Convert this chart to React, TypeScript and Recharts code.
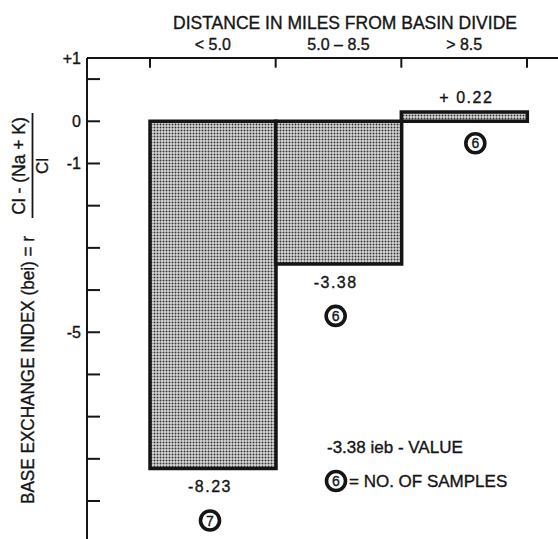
import React from 'react';
import { Bar, BarChart, LabelList, ReferenceLine, XAxis, YAxis } from 'recharts';

// distance classes from the basin divide
const categories = ['< 5.0', '5.0 – 8.5', '> 8.5'];
const beiValues = [-8.23, -3.38, 0.22];
const valueLabels = ['-8.23', '-3.38', '+ 0.22'];
const sampleCounts = [7, 6, 6];

// top of the frame is labelled "+1" in the original figure
const yTicks = [1.5, 1, 0, -1, -2, -3, -4, -5, -6, -7, -8, -9];
const yTickLabels: Record<string, string> = { '1.5': '+1', '0': '0', '-1': '-1', '-5': '-5' };

const data = categories.map((name, i) => ({
  name,
  value: beiValues[i],
  label: valueLabels[i],
  samples: sampleCounts[i],
}));

const FONT = '"Liberation Sans", Arial, Helvetica, sans-serif';
const INK = '#151515';
// printed type is a bit heavier than Liberation regular
const heavy = { stroke: INK, strokeWidth: 0.35 };

function CircledNumber({ cx, cy, n }: { cx: number; cy: number; n: number | string }) {
  return (
    <g>
      <circle cx={cx} cy={cy} r={9.5} fill="#fff" stroke={INK} strokeWidth={3.6} />
      <text
        x={cx}
        y={cy}
        dy="0.36em"
        textAnchor="middle"
        fontSize={14}
        fontFamily={FONT}
        fill={INK}
        {...heavy}
      >
        {n}
      </text>
    </g>
  );
}

function barBox(props: any) {
  const x = Number(props.x);
  const y = Number(props.y);
  const w = Number(props.width);
  const h = Number(props.height);
  return { cx: x + w / 2, top: Math.min(y, y + h), bottom: Math.max(y, y + h) };
}

const ValueLabel = (props: any) => {
  const { cx, top, bottom } = barBox(props);
  const d = data[props.index];
  const negative = d.value < 0;
  return (
    <text
      x={negative ? cx - 3 : cx + 2}
      y={negative ? bottom + 18 : top - 15}
      dy="0.36em"
      textAnchor="middle"
      fontSize={16}
      letterSpacing={1.5}
      fontFamily={FONT}
      fill={INK}
      {...heavy}
    >
      {d.label}
    </text>
  );
};

const SamplesLabel = (props: any) => {
  const { cx, bottom } = barBox(props);
  const d = data[props.index];
  const negative = d.value < 0;
  return <CircledNumber cx={negative ? cx - 3 : cx + 11} cy={negative ? bottom + 52 : bottom + 22} n={d.samples} />;
};

function YTitle() {
  // rotated frame: screen x = v, screen y = -u
  return (
    <g transform="rotate(-90)" fontFamily={FONT} fill={INK}>
      <text x={-504} y={27.5} dy="0.36em" fontSize={17.5} textLength={268} lengthAdjust="spacingAndGlyphs" {...heavy}>
        BASE EXCHANGE INDEX (bei) = r
      </text>
      <text x={-166} y={19} dy="0.36em" textAnchor="middle" fontSize={17.5} {...heavy}>
        Cl - (Na + K)
      </text>
      <line x1={-218} x2={-113} y1={32.5} y2={32.5} stroke={INK} strokeWidth={1.8} />
      <text x={-166} y={42} dy="0.36em" textAnchor="middle" fontSize={17} {...heavy}>
        Cl
      </text>
    </g>
  );
}

export default function App() {
  const last = categories[categories.length - 1];
  return (
    <div style={{ position: 'absolute', left: 0, top: 0, background: '#fff' }}>
      <BarChart
        width={558}
        height={539}
        data={data}
        margin={{ top: 28, right: 0, bottom: 0, left: 0 }}
        barCategoryGap={0}
      >
        <defs>
          <pattern id="halftone" width={3} height={3} patternUnits="userSpaceOnUse">
            <rect width={3} height={3} fill="#dadada" />
            <circle cx={1.5} cy={1.5} r={1} fill="#333" />
          </pattern>
        </defs>
        <XAxis
          dataKey="name"
          orientation="top"
          height={30}
          padding={{ left: 63, right: 31 }}
          axisLine={{ stroke: INK, strokeWidth: 2 }}
          tickLine={false}
          tick={{ fontSize: 16, fill: INK, fontFamily: FONT, ...heavy }}
          interval={0}
        />
        <YAxis
          type="number"
          domain={[-9.9, 1.5]}
          ticks={yTicks}
          width={87}
          allowDataOverflow
          axisLine={{ stroke: INK, strokeWidth: 2 }}
          tickLine={{ stroke: INK, strokeWidth: 2 }}
          tickSize={-13}
          tickMargin={19}
          tickFormatter={(v: number) => yTickLabels[String(v)] ?? ''}
          tick={{ fontSize: 16, fill: INK, fontFamily: FONT, ...heavy }}
        />
        {categories.map((c) => (
          <ReferenceLine
            key={c}
            segment={[
              { x: c, y: 1.5 },
              { x: c, y: 1.27 },
            ]}
            position="start"
            stroke={INK}
            strokeWidth={2}
          />
        ))}
        <ReferenceLine
          segment={[
            { x: last, y: 1.5 },
            { x: last, y: 1.27 },
          ]}
          position="end"
          stroke={INK}
          strokeWidth={2}
        />
        <Bar dataKey="value" fill="url(#halftone)" stroke={INK} strokeWidth={3.5} isAnimationActive={false}>
          <LabelList dataKey="value" content={ValueLabel} />
          <LabelList dataKey="samples" content={SamplesLabel} />
        </Bar>
        <text x={345} y={29} textAnchor="middle" fontSize={17.5} fontFamily={FONT} fill={INK} {...heavy}>
          DISTANCE IN MILES FROM BASIN DIVIDE
        </text>
        <YTitle />
        <text x={327} y={447} dy="0.36em" fontSize={17} fontFamily={FONT} fill={INK} {...heavy}>
          -3.38 ieb - VALUE
        </text>
        <CircledNumber cx={336} cy={481} n={6} />
        <text x={349} y={481} dy="0.36em" fontSize={17} fontFamily={FONT} fill={INK} {...heavy}>
          = NO. OF SAMPLES
        </text>
      </BarChart>
    </div>
  );
}
